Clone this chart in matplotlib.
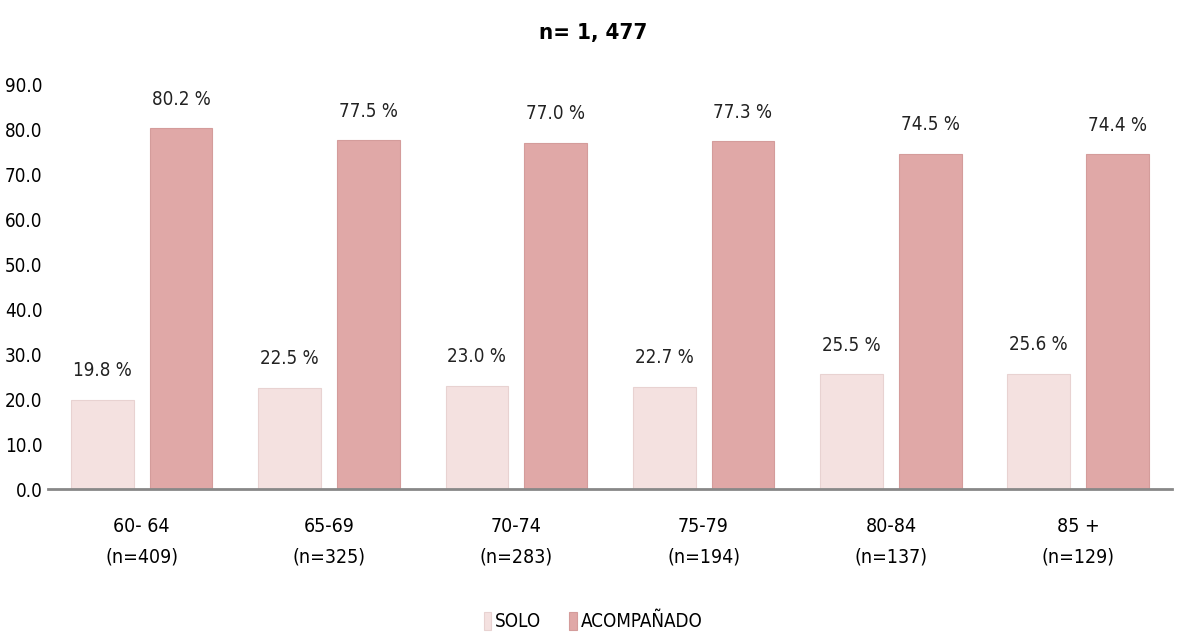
import matplotlib.pyplot as plt
import numpy as np

# Datos
categorias = ['60- 64\n(n=409)', '65-69\n(n=325)', '70-74\n(n=283)',
              '75-79\n(n=194)', '80-84\n(n=137)', '85 +\n(n=129)']
solo = [19.8, 22.5, 23.0, 22.7, 25.5, 25.6]
acompanado = [80.2, 77.5, 77.0, 77.3, 74.5, 74.4]

plt.rcParams['font.family'] = ['DejaVu Sans']
plt.rcParams['font.stretch'] = 'condensed'

fig = plt.figure(figsize=(11.86, 6.37), dpi=100)
ax = fig.add_axes([0.0405, 0.2323, 0.9475, 0.6357])

x = np.arange(len(categorias))
ancho = 0.335
col_solo = '#F4E1E0'
col_acomp = '#E0A8A7'

b1 = ax.bar(x - 0.21, solo, ancho, color=col_solo, edgecolor='#E8D2D1', linewidth=0.8, label='SOLO')
b2 = ax.bar(x + 0.21, acompanado, ancho, color=col_acomp, edgecolor='#D49C9B', linewidth=0.8, label='ACOMPAÑADO')

for barras, vals in [(b1, solo), (b2, acompanado)]:
    for b, v in zip(barras, vals):
        ax.annotate(f'{v:.1f} %', (b.get_x() + b.get_width() / 2, v),
                    xytext=(0, 14), textcoords='offset points',
                    ha='center', va='bottom', fontsize=13.5, color='#222222')

ax.set_xlim(-0.5, 5.5)
ax.set_ylim(0, 90)
ax.set_yticks(np.arange(0, 91, 10))
ax.set_yticklabels([f'{v:.1f}' for v in np.arange(0, 91, 10)], fontsize=13.5)
ax.set_xticks(x)
ax.set_xticklabels(categorias, fontsize=14, linespacing=1.75)
ax.tick_params(length=0, pad=4)
ax.tick_params(axis='x', pad=20)

for s in ['top', 'right', 'left']:
    ax.spines[s].set_visible(False)
ax.spines['bottom'].set_color('#888888')
ax.spines['bottom'].set_linewidth(2)

fig.text(0.5, 0.948, 'n= 1, 477', ha='center', va='center', fontsize=16, fontweight='bold')

fig.legend(loc='center', bbox_to_anchor=(0.5, 0.024), ncol=2, frameon=False,
           fontsize=13.5, handlelength=0.4, handleheight=1.1, handletextpad=0.2,
           columnspacing=1.5)

plt.savefig('out.png', dpi=100)
